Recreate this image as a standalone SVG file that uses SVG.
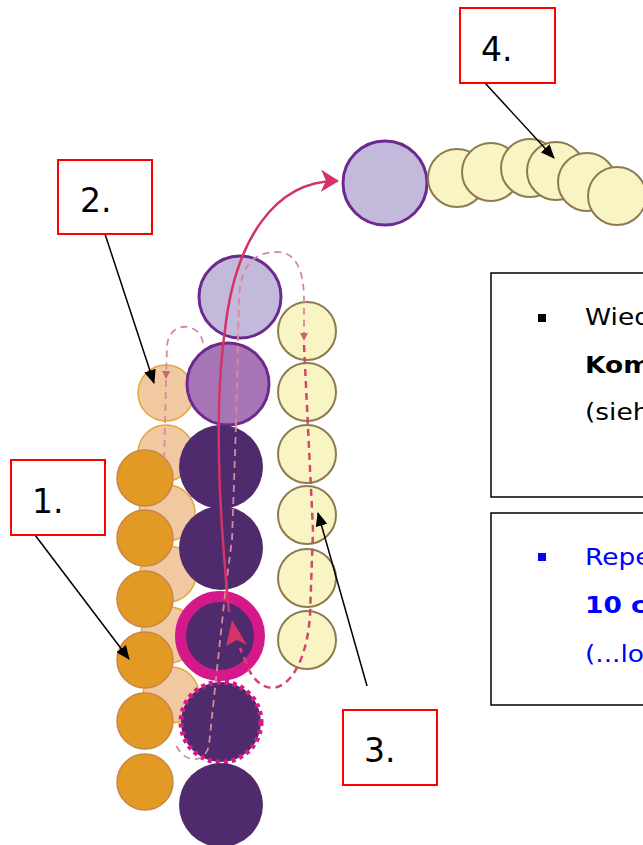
<svg xmlns="http://www.w3.org/2000/svg" width="643" height="845" viewBox="0 0 643 845">
<defs>
<style>
.lbl{fill:none;stroke:#ff0000;stroke-width:2}
.num{font-family:"DejaVu Sans",Verdana,sans-serif;font-size:33px;fill:#000}
.ptr{stroke:#000;stroke-width:1.5;fill:none;marker-end:url(#ah)}
.or{fill:#E29A24;stroke:#C98647;stroke-width:1.5}
.pe{fill:#F1C9A1;stroke:#E5A53E;stroke-width:1.5}
.dp{fill:#4F2A6C}
.lp{fill:#C3B9DA;stroke:#6D2A8E;stroke-width:3}
.mv{fill:#A876B6;stroke:#6D2A8E;stroke-width:3}
.ye{fill:#F8F4C4;stroke:#8D7B4F;stroke-width:2}
.dash{fill:none;stroke:#D88A9C;stroke-width:1.8;stroke-dasharray:7 5}
.dash2{fill:none;stroke:#D2476E;stroke-width:2.5;stroke-dasharray:7 5}
.txt{font-family:"DejaVu Sans",Verdana,sans-serif;font-size:23px}
</style>
<marker id="ah" markerWidth="14" markerHeight="12" refX="13" refY="6" orient="auto" markerUnits="userSpaceOnUse">
<path d="M0,0 L14,6 L0,12 Z" fill="#000"/>
</marker>
<marker id="rh" markerWidth="20" markerHeight="22" refX="17" refY="11" orient="auto" markerUnits="userSpaceOnUse">
<path d="M0,0 L18,11 L0,22 L5,11 Z" fill="#D43465"/>
</marker>
<marker id="sh" markerWidth="8" markerHeight="8" refX="7" refY="4" orient="auto" markerUnits="userSpaceOnUse">
<path d="M0,0 L8,4 L0,8 Z" fill="#D0607E"/>
</marker>
</defs>
<rect width="643" height="845" fill="#fff"/>

<g id="peach-column">
<circle class="pe" cx="166" cy="393" r="28"/>
<circle class="pe" cx="166" cy="453" r="28"/>
<circle class="pe" cx="167" cy="513" r="28"/>
<circle class="pe" cx="168" cy="574" r="28"/>
<circle class="pe" cx="169" cy="635" r="28"/>
<circle class="pe" cx="171" cy="695" r="28"/>
</g>
<g id="orange-column">
<circle class="or" cx="145" cy="478" r="28"/>
<circle class="or" cx="145" cy="538" r="28"/>
<circle class="or" cx="145" cy="599" r="28"/>
<circle class="or" cx="145" cy="660" r="28"/>
<circle class="or" cx="145" cy="721" r="28"/>
<circle class="or" cx="145" cy="782" r="28"/>
</g>
<g id="purple-column">
<circle class="lp" cx="240" cy="297" r="41"/>
<circle class="mv" cx="228" cy="384" r="41"/>
<circle class="dp" cx="221" cy="467" r="42"/>
<circle class="dp" cx="221" cy="548" r="42"/>
<circle cx="220" cy="636" r="39.5" fill="#4F2A6C" stroke="#D5198A" stroke-width="11"/>
<circle cx="221" cy="722" r="40" fill="#4F2A6C" stroke="#D5198A" stroke-width="5" stroke-dasharray="4 4"/>
<circle class="dp" cx="221" cy="805" r="42"/>
</g>
<g id="yellow-column">
<circle class="ye" cx="307" cy="331" r="29"/>
<circle class="ye" cx="307" cy="392" r="29"/>
<circle class="ye" cx="307" cy="454" r="29"/>
<circle class="ye" cx="307" cy="515" r="29"/>
<circle class="ye" cx="307" cy="578" r="29"/>
<circle class="ye" cx="307" cy="640" r="29"/>
</g>
<g id="top-row">
<circle class="lp" cx="385" cy="183" r="42"/>
<circle class="ye" cx="457" cy="178" r="29"/>
<circle class="ye" cx="491" cy="172" r="29"/>
<circle class="ye" cx="530" cy="168" r="29"/>
<circle class="ye" cx="556" cy="171" r="29"/>
<circle class="ye" cx="587" cy="182" r="29"/>
<circle class="ye" cx="617" cy="196" r="29"/>
</g>

<g id="connectors">
<path class="dash" d="M203,343 C200,322 170,320 167,345 L166,378" marker-end="url(#sh)"/>
<path class="dash" d="M166,380 L164,465"/>
<path class="dash" d="M236,425 L239,300 C240,270 250,252 277,252 C298,252 304,275 304,300 L304,340" marker-end="url(#sh)"/>
<path class="dash" d="M236,425 L232,540 L226,585 L218,660 L209,745 C206,762 186,766 176,745"/>
<path class="dash2" d="M304,345 L313,530 L310,615 C306,680 272,708 250,672 L240,648"/>
<path d="M229,612 C222,540 212,420 225,330 C235,240 275,180 338,181" fill="none" stroke="#D43465" stroke-width="2.5" marker-end="url(#rh)"/>
<path d="M232,620 L247,645 L237,640 L226,646 Z" fill="#D43465"/>
<line class="ptr" x1="105" y1="234" x2="154" y2="383"/>
<line class="ptr" x1="485" y1="83" x2="554" y2="158"/>
<line class="ptr" x1="35" y1="535" x2="129" y2="659"/>
<line class="ptr" x1="367" y1="686" x2="318" y2="513"/>
</g>

<g id="label-1"><rect class="lbl" x="11" y="460" width="94" height="75"/><text class="num" x="32" y="513">1.</text></g>
<g id="label-2"><rect class="lbl" x="58" y="160" width="94" height="74"/><text class="num" x="80" y="212">2.</text></g>
<g id="label-3"><rect class="lbl" x="343" y="710" width="94" height="75"/><text class="num" x="364" y="762">3.</text></g>
<g id="label-4"><rect class="lbl" x="460" y="8" width="95" height="75"/><text class="num" x="481" y="61">4.</text></g>

<g id="note-de">
<rect x="491" y="273" width="160" height="224" fill="#fff" stroke="#000" stroke-width="1.5"/>
<rect x="538" y="314" width="8" height="8" fill="#000"/>
<g class="txt" fill="#000">
<text transform="translate(585,325) scale(1.15,1)">Wied</text>
<text transform="translate(585,373) scale(1.15,1)" font-weight="bold">Kom</text>
<text transform="translate(585,420) scale(1.15,1)">(sieh</text>
</g>
</g>
<g id="note-en">
<rect x="491" y="513" width="160" height="192" fill="#fff" stroke="#000" stroke-width="1.5"/>
<rect x="538" y="553" width="8" height="8" fill="#0000ff"/>
<g class="txt" fill="#0000ff">
<text transform="translate(585,565) scale(1.15,1)">Repe</text>
<text transform="translate(585,613) scale(1.15,1)" font-weight="bold">10 c</text>
<text transform="translate(585,662) scale(1.15,1)">(...lo</text>
</g>
</g>
</svg>
